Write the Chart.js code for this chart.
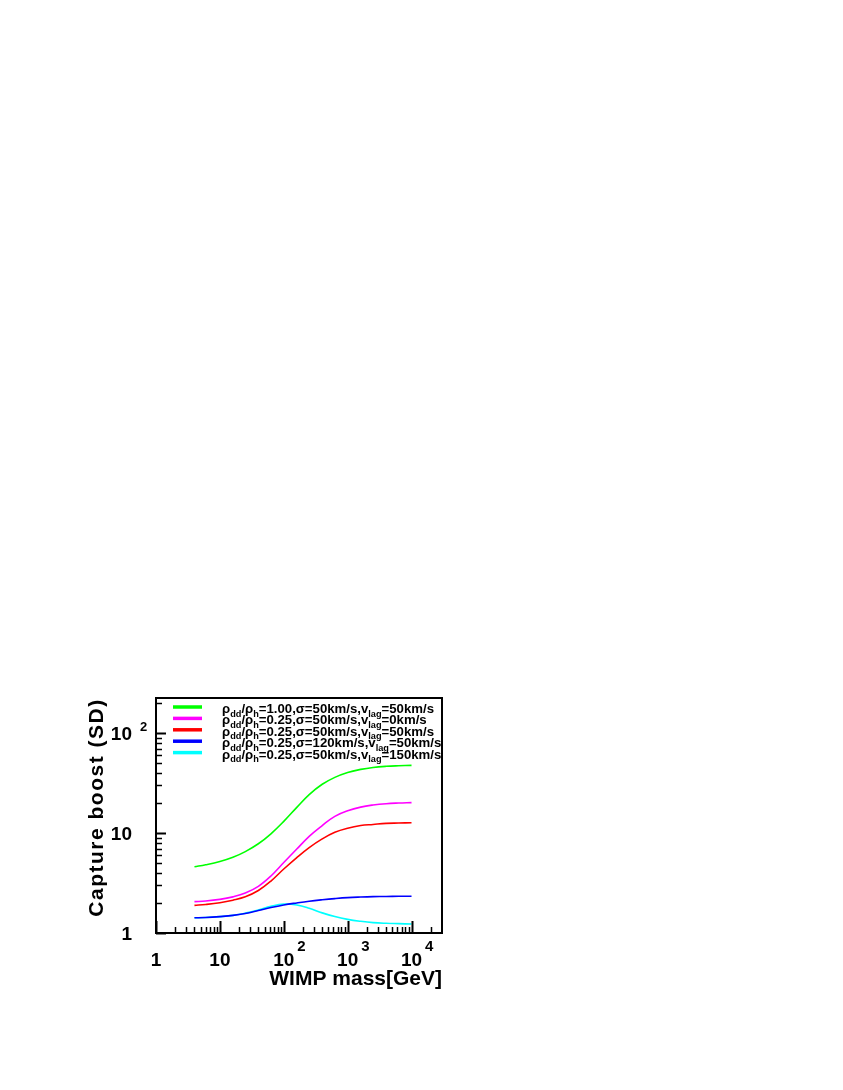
<!DOCTYPE html>
<html>
<head>
<meta charset="utf-8">
<script src="https://cdn.jsdelivr.net/npm/chart.js"></script>
<style>
  html, body { margin: 0; padding: 0; background: #fff; }
  #wrap { position: absolute; left: 0; top: 0; width: 843px; height: 1090px; }
</style>
</head>
<body>
<div id="wrap"><canvas id="boostChart" width="843" height="1090"></canvas></div>
<script>
// WIMP mass [GeV] where the curves were read
const masses = [4, 6, 10, 16, 25, 40, 63, 100, 160, 250, 400, 630, 1000, 1600, 2500, 4000, 6300, 10000];

// capture boost (SD) for each dark disk setup
const boostRho100Lag50 = [4.6, 4.82, 5.2, 5.73, 6.53, 7.82, 9.84, 13.1, 18.1, 24.3, 30.8, 36.1, 40.4, 43.4, 45.4, 46.6, 47.2, 47.6];
const boostRho025Lag0 = [2.06, 2.09, 2.17, 2.3, 2.51, 2.93, 3.72, 5.07, 6.92, 9.29, 11.9, 14.7, 16.7, 18.2, 19.1, 19.7, 20.0, 20.2];
const boostRho025Lag50 = [1.89, 1.93, 2.01, 2.13, 2.3, 2.66, 3.31, 4.37, 5.69, 7.16, 8.75, 10.2, 11.2, 11.9, 12.2, 12.5, 12.6, 12.7];
const boostSig120Lag50 = [1.42, 1.43, 1.46, 1.5, 1.57, 1.68, 1.8, 1.91, 2.0, 2.08, 2.15, 2.21, 2.26, 2.29, 2.31, 2.32, 2.33, 2.33];
const boostSig50Lag150 = [1.42, 1.43, 1.46, 1.5, 1.58, 1.7, 1.85, 1.95, 1.91, 1.77, 1.59, 1.46, 1.37, 1.31, 1.27, 1.25, 1.24, 1.23];

const seriesLabels = [
  "ρ_{dd}/ρ_{h}=1.00,σ=50km/s,v_{lag}=50km/s",
  "ρ_{dd}/ρ_{h}=0.25,σ=50km/s,v_{lag}=0km/s",
  "ρ_{dd}/ρ_{h}=0.25,σ=50km/s,v_{lag}=50km/s",
  "ρ_{dd}/ρ_{h}=0.25,σ=120km/s,v_{lag}=50km/s",
  "ρ_{dd}/ρ_{h}=0.25,σ=50km/s,v_{lag}=150km/s"
];
const seriesColors = ["#00ff00", "#ff00ff", "#ff0000", "#0000ff", "#00ffff"];

// axis ticks
const xTickValues = [1, 10, 100, 1000, 10000];
const xTickLabels = ["1", "10", "10^2", "10^3", "10^4"];
const yTickValues = [1, 10, 100];
const yTickLabels = ["1", "10", "10^2"];
const xMin = 1, xMax = 30000;
const yMin = 1, yMax = 225;

const FONT = '"Liberation Sans", Arial, Helvetica, sans-serif';

function makeData(values) {
  return masses.map((m, i) => ({ x: m, y: values[i] }));
}

const allSeries = [boostRho100Lag50, boostRho025Lag0, boostRho025Lag50, boostSig120Lag50, boostSig50Lag150];

// draws "a_{sub}b" style text, returns end x
function drawRich(ctx, text, x, y, size, subSize, subDrop) {
  const parts = text.split(/(_\{[^}]*\})/).filter(s => s.length);
  for (const p of parts) {
    if (p.startsWith("_{")) {
      const t = p.slice(2, -1);
      ctx.font = "bold " + subSize + "px " + FONT;
      ctx.fillText(t, x, y + subDrop);
      x += ctx.measureText(t).width;
    } else {
      ctx.font = "bold " + size + "px " + FONT;
      ctx.fillText(p, x, y);
      x += ctx.measureText(p).width;
    }
  }
  return x;
}

const framePlugin = {
  id: "frame",
  afterDraw(chart) {
    const { ctx, chartArea: a, scales } = chart;
    const xs = scales.x, ys = scales.y;
    ctx.save();
    ctx.strokeStyle = "#000";
    ctx.fillStyle = "#000";

    // x ticks (inside, bottom)
    for (let d = 0; d <= 4; d++) {
      for (let k = 1; k <= 9; k++) {
        const v = k * Math.pow(10, d);
        if (v >= xMax) break;
        const px = Math.round(xs.getPixelForValue(v)) + 0.5;
        ctx.lineWidth = k === 1 ? 2 : 1.5;
        ctx.beginPath();
        ctx.moveTo(px, a.bottom);
        ctx.lineTo(px, a.bottom - (k === 1 ? 12 : 6));
        ctx.stroke();
      }
    }
    // y ticks (inside, left)
    for (let d = 0; d <= 2; d++) {
      for (let k = 1; k <= 9; k++) {
        const v = k * Math.pow(10, d);
        if (v >= yMax) break;
        const py = Math.round(ys.getPixelForValue(v)) + 0.5;
        ctx.lineWidth = k === 1 ? 2 : 1.5;
        ctx.beginPath();
        ctx.moveTo(a.left, py);
        ctx.lineTo(a.left + (k === 1 ? 10 : 6), py);
        ctx.stroke();
      }
    }

    // frame
    ctx.lineWidth = 2;
    ctx.strokeRect(a.left, a.top, a.right - a.left, a.bottom - a.top);

    // x tick labels
    ctx.textBaseline = "alphabetic";
    xTickValues.forEach((v, i) => {
      const px = xs.getPixelForValue(v);
      const [base, sup] = xTickLabels[i].split("^");
      ctx.font = "bold 19px " + FONT;
      ctx.textAlign = "center";
      ctx.fillText(base, px, a.bottom + 33);
      if (sup) {
        const w = ctx.measureText(base).width;
        ctx.font = "bold 15px " + FONT;
        ctx.textAlign = "left";
        ctx.fillText(sup, px + w / 2 + 3, a.bottom + 18);
      }
    });
    // y tick labels
    yTickValues.forEach((v, i) => {
      const py = ys.getPixelForValue(v);
      const [base, sup] = yTickLabels[i].split("^");
      ctx.font = "bold 19px " + FONT;
      ctx.textAlign = "right";
      ctx.fillText(base, a.left - 24, py + 7);
      if (sup) {
        ctx.font = "bold 13px " + FONT;
        ctx.textAlign = "left";
        ctx.fillText(sup, a.left - 16, py - 2);
      }
    });

    // axis titles
    ctx.font = "bold 21px " + FONT;
    ctx.textAlign = "right";
    ctx.fillText("WIMP mass[GeV]", a.right, a.bottom + 52);
    ctx.save();
    ctx.translate(a.left - 53, (a.top + a.bottom) / 2 - 8);
    ctx.rotate(-Math.PI / 2);
    ctx.textAlign = "center";
    ctx.letterSpacing = "1.5px";
    ctx.fillText("Capture boost (SD)", 0, 0);
    ctx.restore();

    // legend
    ctx.textAlign = "left";
    seriesLabels.forEach((lab, i) => {
      const ly = a.top + 9 + i * 11.4;
      ctx.strokeStyle = seriesColors[i];
      ctx.lineWidth = 3.5;
      ctx.beginPath();
      ctx.moveTo(a.left + 17, ly);
      ctx.lineTo(a.left + 46, ly);
      ctx.stroke();
      ctx.fillStyle = "#000";
      drawRich(ctx, lab, a.left + 66, ly + 6, 13.2, 9.2, 3.5);
    });
    ctx.restore();
  }
};

new Chart(document.getElementById("boostChart"), {
  type: "line",
  data: {
    datasets: allSeries.map((vals, i) => ({
      label: seriesLabels[i],
      data: makeData(vals),
      borderColor: seriesColors[i],
      backgroundColor: seriesColors[i],
      borderWidth: 1.6,
      pointRadius: 0,
      fill: false,
      tension: 0.4
    }))
  },
  options: {
    responsive: false,
    animation: false,
    layout: { padding: { left: 156, top: 698, right: 401, bottom: 157 } },
    plugins: { legend: { display: false }, tooltip: { enabled: false } },
    scales: {
      x: { type: "logarithmic", min: xMin, max: xMax, display: false },
      y: { type: "logarithmic", min: yMin, max: yMax, display: false }
    }
  },
  plugins: [framePlugin]
});
</script>
</body>
</html>
